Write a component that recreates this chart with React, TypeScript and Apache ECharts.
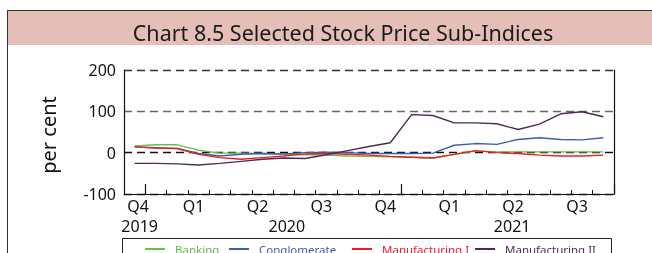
import React, { useEffect, useRef } from "react";
import * as echarts from "echarts";

const months = [
  "2019-10", "2019-11", "2019-12",
  "2020-01", "2020-02", "2020-03", "2020-04", "2020-05", "2020-06",
  "2020-07", "2020-08", "2020-09", "2020-10", "2020-11", "2020-12",
  "2021-01", "2021-02", "2021-03", "2021-04", "2021-05", "2021-06",
  "2021-07", "2021-08",
];

const quarterLabels: Record<number, string> = {
  0: "Q4",
  3: "Q1",
  6: "Q2",
  9: "Q3",
  12: "Q4",
  15: "Q1",
  18: "Q2",
  21: "Q3",
};

const yearLabels: Record<number, string> = {
  0: "2019",
  7: "2020",
  18: "2021",
};

const banking = [16, 19, 19, 6, -1, -1, -2, -4, -5, -6, -8, -9, -10, -11, -13, -4, 4, 2, 2, 2, 2, 2, 2];
const conglomerate = [14, 12, 10, -2, -8, -4, -2, -3, 0, 1, 0, -2, -2, -2, -1, 18, 22, 20, 32, 36, 32, 31, 36];
const manufacturingI = [14, 11, 10, -4, -12, -16, -12, -8, -3, -2, -4, -6, -9, -11, -13, -4, 5, 0, -2, -6, -8, -8, -6];
const manufacturingII = [-26, -26, -27, -30, -26, -21, -16, -13, -14, -5, 5, 15, 24, 92, 90, 72, 72, 70, 56, 69, 94, 99, 87];

const seriesNames = ["Banking", "Conglomerate", "Manufacturing I", "Manufacturing II"];
const seriesColors = ["#66C04A", "#3A5DAE", "#EE1C25", "#4B2C50"];
const legendTextColors = ["#5DBB46", "#3A5DAE", "#EE1C25", "#4B2C50"];
const legendLefts = [145, 229, 352, 475];

const yTicks = [-100, 0, 100, 200];

const FONT = "'Noto Sans', sans-serif";

export default function App() {
  const ref = useRef<HTMLDivElement>(null);
  useEffect(() => {
    if (!ref.current) return;
    const chart = echarts.init(ref.current, undefined, { renderer: "svg" });
    const seriesData = [banking, conglomerate, manufacturingI, manufacturingII];
    const series = seriesNames.map((name, i) => ({
      name,
      type: "line",
      data: seriesData[i],
      showSymbol: false,
      symbol: "none",
      lineStyle: { color: seriesColors[i], width: 1.4 },
      itemStyle: { color: seriesColors[i] },
      xAxisIndex: 0,
      yAxisIndex: 0,
    }));
    const legends = seriesNames.map((name, i) => ({
      left: legendLefts[i],
      top: 242,
      padding: 0,
      itemWidth: 20,
      itemHeight: 2,
      icon: "rect",
      textStyle: {
        fontSize: 11.5,
        fontFamily: FONT,
        color: legendTextColors[i],
        lineHeight: 14,
        padding: [0, 0, 0, 5],
      },
      data: [name],
    }));
    chart.setOption({
      animation: false,
      textStyle: { fontFamily: FONT },
      graphic: [
        { type: "rect", shape: { x: 7, y: 10, width: 645, height: 35 }, style: { fill: "#E6BEB8" }, z: -1 },
        { type: "line", shape: { x1: 7, y1: 10.5, x2: 652, y2: 10.5 }, style: { stroke: "#333", lineWidth: 1 } },
        { type: "line", shape: { x1: 7.5, y1: 10, x2: 7.5, y2: 253 }, style: { stroke: "#333", lineWidth: 1 } },
        {
          type: "text",
          x: 343,
          y: 32,
          style: {
            text: "Chart 8.5 Selected Stock Price Sub-Indices",
            font: `21.5px ${FONT}`,
            fill: "#1a1a1a",
            align: "center",
            verticalAlign: "middle",
          },
        },
        {
          type: "text",
          x: 48,
          y: 135,
          rotation: Math.PI / 2,
          style: {
            text: "per cent",
            font: `20px ${FONT}`,
            fill: "#111",
            align: "center",
            verticalAlign: "middle",
          },
        },
        { type: "rect", shape: { x: 122.5, y: 238.5, width: 489, height: 30 }, style: { fill: "none", stroke: "#222", lineWidth: 1 } },
      ],
      grid: { left: 124, right: 38, top: 70, bottom: 59, containLabel: false },
      legend: legends,
      xAxis: [
        {
          type: "category",
          data: months,
          boundaryGap: true,
          position: "bottom",
          axisLine: { show: true, onZero: false, lineStyle: { color: "#111", width: 1.2 } },
          axisTick: { show: true, inside: true, length: 4, interval: 0, lineStyle: { color: "#111" } },
          axisLabel: {
            interval: 0,
            fontSize: 16,
            color: "#111",
            lineHeight: 16,
            margin: 4,
            formatter: (_v: string, i: number) => {
              const t = quarterLabels[i];
              if (!t) return "";
              return i === 0 ? `{f|${t}}` : `{q|${t}}`;
            },
            rich: {
              f: { fontSize: 16, color: "#111", lineHeight: 16, padding: [0, 0, 0, 7] },
              q: { fontSize: 16, color: "#111", lineHeight: 16, padding: [0, 10, 0, 0] },
            },
          },
          splitLine: { show: false },
        },
        {
          type: "category",
          data: months,
          position: "bottom",
          offset: 0,
          boundaryGap: true,
          axisLine: { show: false, onZero: false },
          axisTick: {
            show: true,
            inside: true,
            length: 10,
            interval: (i: number) => i === 1 || i === 13,
            lineStyle: { color: "#111", width: 1.2 },
          },
          axisLabel: {
            interval: 0,
            margin: 24,
            fontSize: 16,
            color: "#111",
            lineHeight: 16,
            formatter: (_v: string, i: number) => {
              const t = yearLabels[i];
              if (!t) return "";
              if (i === 0) return `{a|${t}}`;
              if (i === 7) return `{b|${t}}`;
              return `{c|${t}}`;
            },
            rich: {
              a: { fontSize: 16, color: "#111", lineHeight: 16, padding: [0, 0, 0, 10] },
              b: { fontSize: 16, color: "#111", lineHeight: 16, padding: [0, 0, 0, 6] },
              c: { fontSize: 16, color: "#111", lineHeight: 16, padding: [0, 12, 0, 0] },
            },
          },
          splitLine: { show: false },
        },
      ],
      yAxis: [
        {
          type: "value",
          min: -100,
          max: 200,
          interval: 100,
          axisLine: { show: true, onZero: false, lineStyle: { color: "#111", width: 1.2 } },
          axisTick: { show: false },
          axisLabel: {
            fontSize: 16,
            color: "#111",
            margin: 8,
            formatter: (v: number) => (yTicks.includes(v) ? String(v) : ""),
          },
          splitLine: {
            show: true,
            lineStyle: { color: ["#111", "#111", "#666", "#333"], type: [8, 5], width: 1.3 },
          },
        },
        {
          type: "value",
          min: -100,
          max: 200,
          interval: 100,
          position: "right",
          axisLine: { show: true, onZero: false, lineStyle: { color: "#111", width: 1.2 } },
          axisTick: { show: false },
          axisLabel: { show: false },
          splitLine: { show: false },
        },
      ],
      series,
    });
    return () => chart.dispose();
  }, []);
  return <div ref={ref} style={{ position: "fixed", left: 0, top: 0, width: 652, height: 253 }} />;
}
